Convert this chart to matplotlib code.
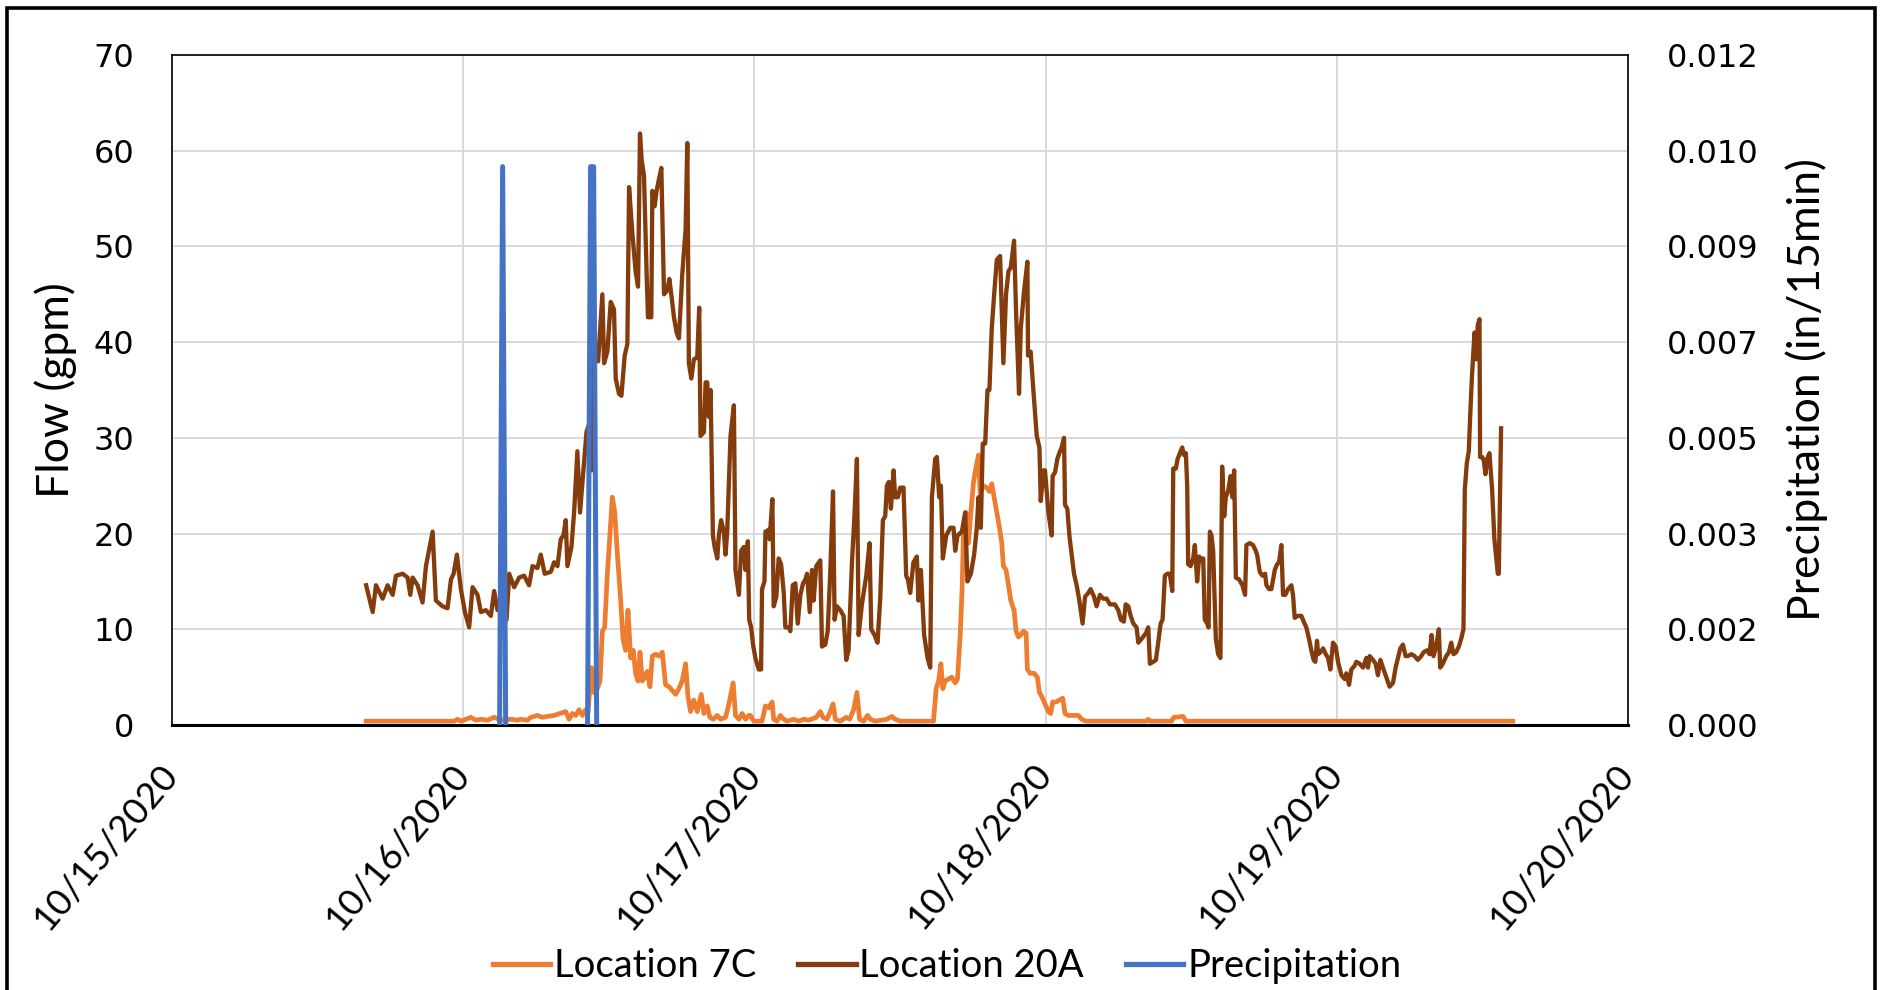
import numpy as np
import pandas as pd
import matplotlib
matplotlib.use("Agg")
import matplotlib.pyplot as plt
import matplotlib.dates as mdates
from matplotlib.patches import Rectangle
from matplotlib.ticker import FixedLocator, FormatStrFormatter

# hours after 10/15/2020 00:00
t_20a = [16.0, 16.54, 16.81, 17.36, 17.77, 18.19, 18.46, 19.01, 19.42, 19.64, 19.83, 20.24, 20.65, 20.93,
         21.48, 21.75, 22.30, 22.71, 22.99, 23.21, 23.48, 23.81, 24.14, 24.49, 24.77, 25.18, 25.46, 25.87,
         26.28, 26.55, 26.83, 27.24, 27.57, 27.79, 28.2, 28.61, 29.02, 29.43, 29.71, 30.12, 30.39, 30.72,
         31.22, 31.49, 31.77, 32.04, 32.26, 32.45, 32.59, 32.92, 33.14, 33.41, 33.63, 33.88, 34.16, 34.37,
         34.59, 34.79, 35.12, 35.47, 35.61, 35.88, 36.16, 36.43, 36.57, 36.84, 37.04, 37.31, 37.53, 37.67,
         37.94, 38.21, 38.41, 38.57, 38.71, 38.90, 39.12, 39.23, 39.50, 39.59, 39.78, 39.94, 40.13, 40.33,
         40.55, 40.82, 40.99, 41.15, 41.37, 41.59, 41.78, 42.05, 42.33, 42.47, 42.60, 42.80, 43.01, 43.29,
         43.45, 43.56, 43.84, 43.98, 44.11, 44.25, 44.39, 44.58, 44.72, 44.94, 45.07, 45.26, 45.48, 45.62,
         45.76, 46.03, 46.31, 46.44, 46.72, 46.91, 47.13, 47.27, 47.46, 47.57, 47.73, 47.89, 48.08, 48.36,
         48.55, 48.63, 48.83, 48.91, 49.18, 49.26, 49.48, 49.59, 49.81, 50.0, 50.2, 50.42, 50.55, 50.83,
         50.96, 51.16, 51.38, 51.57, 51.79, 52.01, 52.2, 52.34, 52.56, 52.75, 52.88, 53.1, 53.43, 53.57,
         53.84, 54.04, 54.26, 54.48, 54.61, 54.8, 55.08, 55.35, 55.57, 55.76, 56.04, 56.23, 56.45, 56.59,
         56.86, 57.22, 57.49, 57.63, 57.9, 58.15, 58.37, 58.59, 58.78, 58.92, 59.08, 59.25, 59.47, 59.6,
         59.82, 60.02, 60.29, 60.51, 60.65, 60.84, 61.11, 61.39, 61.52, 61.72, 61.99, 62.27, 62.49, 62.63,
         62.9, 63.04, 63.23, 63.37, 63.53, 63.81, 64.14, 64.41, 64.55, 64.74, 65.1, 65.37, 65.56, 65.84,
         66.11, 66.33, 66.47, 66.66, 66.82, 67.02, 67.21, 67.37, 67.56, 67.76, 67.98, 68.25, 68.52, 68.74,
         68.94, 69.13, 69.4, 69.57, 69.81, 69.95, 70.23, 70.5, 70.55, 70.77, 70.99, 71.27, 71.49, 71.6,
         71.82, 71.95, 72.23, 72.5, 72.58, 72.78, 72.97, 73.13, 73.32, 73.52, 73.6, 73.79, 73.96, 74.15,
         74.34, 74.56, 74.78, 75.05, 75.25, 75.52, 75.71, 75.99, 76.2, 76.48, 76.75, 77.03, 77.3, 77.71,
         77.99, 78.21, 78.45, 78.6, 78.82, 79.01, 79.23, 79.5, 79.64, 79.91, 80.27, 80.46, 80.6, 80.87,
         81.09, 81.28, 81.48, 81.64, 81.83, 82.03, 82.24, 82.44, 82.52, 82.74, 82.88, 83.07, 83.26, 83.4,
         83.56, 83.67, 83.75, 83.95, 84.16, 84.3, 84.49, 84.66, 84.85, 84.99, 85.12, 85.32, 85.43, 85.54,
         85.67, 85.81, 86.03, 86.22, 86.41, 86.55, 86.72, 86.85, 87.04, 87.24, 87.4, 87.54, 87.68, 87.95,
         88.22, 88.44, 88.55, 88.83, 89.1, 89.32, 89.43, 89.65, 89.87, 90.09, 90.2, 90.42, 90.61, 90.89,
         91.08, 91.24, 91.43, 91.57, 91.76, 91.98, 92.26, 92.39, 92.53, 92.81, 93.08, 93.27, 93.49, 93.71,
         93.9, 94.09, 94.23, 94.37, 94.46, 94.65, 94.87, 95.09, 95.28, 95.47, 95.69, 95.91, 96.1, 96.38,
         96.65, 96.79, 97.01, 97.2, 97.47, 97.61, 97.88, 98.16, 98.43, 98.57, 98.71, 98.98, 99.2, 99.39,
         99.59, 99.8, 100.08, 100.35, 100.63, 100.85, 101.04, 101.23, 101.45, 101.67, 101.86, 102.14, 102.41,
         102.68, 102.96, 103.15, 103.43, 103.64, 103.81, 103.97, 104.19, 104.41, 104.52, 104.74, 105.02,
         105.24, 105.43, 105.62, 105.84, 106.06, 106.25, 106.44, 106.55, 106.72, 106.88, 106.99, 107.13,
         107.35, 107.49, 107.62, 107.76, 107.81, 107.98, 108.12, 108.25, 108.39, 108.58, 108.8, 108.99,
         109.27, 109.35, 109.54]
flow_20a = [14.6, 11.8, 14.6, 13.2, 14.6, 13.6, 15.6, 15.8, 15.4, 13.6, 15.4, 14.6, 12.8, 16.6,
            20.2, 13.0, 12.4, 12.2, 15.2, 15.8, 17.8, 14.2, 11.8, 10.2, 14.4, 13.6, 11.8, 12.0,
            11.4, 14.0, 12.0, 12.4, 11.0, 15.8, 14.4, 15.4, 15.6, 14.6, 16.6, 16.4, 17.8, 15.8,
            16.0, 17.0, 16.6, 19.4, 19.8, 21.4, 16.6, 18.6, 22.2, 28.6, 22.2, 26.2, 30.6, 31.4,
            26.6, 38.6, 38.0, 45.0, 37.8, 39.0, 44.2, 43.4, 36.2, 34.6, 34.4, 38.6, 39.8, 56.2,
            51.4, 47.4, 45.8, 61.8, 59.0, 57.4, 47.0, 42.6, 42.6, 55.8, 54.2, 55.8, 57.0, 58.2,
            45.0, 45.4, 46.6, 45.0, 42.6, 41.0, 40.4, 47.0, 51.8, 60.8, 37.8, 36.2, 38.2, 38.4,
            43.6, 30.2, 30.6, 35.8, 35.8, 32.2, 35.0, 19.8, 18.6, 17.4, 19.8, 21.4, 20.2, 17.8,
            20.2, 30.2, 33.4, 16.2, 13.6, 18.2, 18.6, 16.2, 19.2, 11.0, 10.2, 8.4, 7.0, 5.8,
            5.8, 14.2, 15.0, 20.2, 20.4, 19.4, 23.6, 12.4, 13.4, 17.4, 16.8, 13.8, 10.2, 10.2,
            9.8, 14.6, 14.8, 10.6, 13.6, 14.8, 15.2, 15.8, 11.8, 16.2, 13.0, 16.6, 17.2, 8.2,
            8.4, 9.8, 16.2, 24.4, 11.0, 12.4, 12.0, 11.4, 6.8, 7.8, 17.0, 21.4, 27.8, 9.4,
            12.6, 15.6, 19.0, 10.0, 9.4, 8.6, 13.2, 21.4, 21.8, 25.0, 25.4, 22.6, 26.6, 23.8,
            23.8, 24.8, 24.8, 15.6, 15.2, 13.8, 17.0, 17.6, 13.0, 16.2, 9.4, 7.0, 6.0, 23.8,
            27.8, 28.0, 23.8, 25.0, 17.4, 19.8, 20.6, 20.6, 18.2, 19.8, 20.2, 22.2, 15.0, 15.8,
            17.8, 20.6, 23.8, 20.6, 29.4, 29.4, 35.0, 35.0, 41.4, 45.0, 48.6, 49.0, 37.8, 45.0,
            47.4, 47.8, 50.6, 43.0, 34.6, 41.4, 45.4, 48.4, 38.6, 39.0, 35.0, 30.2, 29.0, 23.4,
            26.6, 26.6, 22.2, 19.8, 26.0, 26.4, 27.8, 28.4, 29.0, 30.0, 23.0, 22.6, 19.8, 17.8,
            15.8, 14.6, 13.0, 10.6, 13.4, 13.8, 14.2, 13.4, 12.4, 13.6, 13.2, 13.2, 12.6, 12.6,
            12.0, 11.0, 10.8, 12.6, 12.4, 11.4, 10.6, 10.2, 8.6, 9.0, 9.6, 10.2, 6.4, 6.6,
            6.8, 8.6, 10.6, 11.0, 15.6, 15.8, 15.8, 14.0, 26.8, 26.8, 27.8, 28.4, 29.0, 28.2,
            28.4, 25.0, 16.8, 16.6, 17.4, 18.8, 15.0, 17.6, 17.2, 17.4, 11.0, 10.6, 10.2, 20.2,
            19.8, 18.2, 9.0, 7.4, 7.0, 27.0, 21.8, 23.8, 24.4, 26.0, 23.8, 26.6, 15.4, 15.2,
            14.6, 13.6, 18.8, 19.0, 18.8, 18.2, 17.8, 16.0, 15.6, 15.8, 14.6, 14.2, 14.2, 16.2,
            16.8, 17.0, 18.8, 13.6, 13.6, 14.2, 14.6, 13.6, 11.2, 11.4, 11.4, 10.8, 10.2, 9.0,
            7.8, 6.8, 6.6, 8.8, 7.4, 7.6, 8.0, 7.4, 7.0, 5.8, 8.6, 8.2, 6.6, 5.2,
            4.8, 5.4, 4.2, 5.8, 6.2, 6.6, 6.4, 6.0, 7.0, 6.0, 7.2, 6.8, 6.4, 5.2,
            6.8, 6.0, 5.0, 4.0, 4.4, 6.0, 7.0, 8.0, 8.4, 7.2, 7.2, 7.4, 7.2,
            6.8, 7.2, 7.6, 7.8, 7.4, 9.4, 7.2, 8.2, 10.0, 6.0, 6.4, 7.2,
            7.6, 8.6, 7.4, 7.6, 8.2, 9.0, 10.0, 24.6, 27.4, 28.6, 32.2, 36.2,
            41.0, 38.2, 41.8, 42.4, 28.0, 28.0, 27.6, 26.2, 27.8, 28.4, 24.6, 19.4,
            15.8, 15.8, 31.0]

t_7c = [16.0, 23.26, 23.53, 23.81, 24.63, 25.04, 25.46, 26.0, 26.55, 27.1, 27.92, 28.47, 28.75, 29.3,
        29.57, 30.12, 30.53, 30.94, 31.49, 31.98, 32.45, 32.73, 33.0, 33.28, 33.55, 33.83, 34.1, 34.29,
        34.57, 34.73, 35.06, 35.28, 35.47, 35.66, 35.88, 36.07, 36.29, 36.49, 36.71, 36.98, 37.17, 37.39,
        37.58, 37.8, 38.02, 38.21, 38.41, 38.57, 38.76, 38.96, 39.17, 39.39, 39.59, 39.86, 40.13, 40.41,
        40.68, 40.96, 41.23, 41.51, 41.78, 42.05, 42.33, 42.52, 42.74, 43.01, 43.29, 43.62, 43.84, 44.11,
        44.33, 44.61, 44.94, 45.21, 45.62, 45.9, 46.25, 46.44, 46.72, 46.99, 47.27, 47.54, 47.67, 47.95,
        48.63, 48.91, 49.18, 49.46, 49.59, 49.87, 50.14, 50.42, 50.69, 51.24, 51.65, 52.06, 52.47, 53.1,
        53.43, 53.65, 53.98, 54.26, 54.48, 54.67, 55.08, 55.57, 55.85, 56.18, 56.45, 56.67, 57.0, 57.33,
        57.55, 57.96, 58.92, 59.33, 59.6, 60.02, 62.76, 62.98, 63.18, 63.37, 63.53, 63.72, 64.0, 64.27,
        64.55, 64.74, 64.96, 65.12, 65.23, 65.45, 65.64, 65.84, 66.06, 66.28, 66.47, 66.6, 66.88, 67.15,
        67.37, 67.56, 67.76, 67.98, 68.2, 68.39, 68.52, 68.74, 68.94, 69.13, 69.4, 69.57, 69.76, 69.95,
        70.17, 70.39, 70.5, 70.72, 71.05, 71.32, 71.49, 71.68, 71.95, 72.23, 72.42, 72.58, 72.86, 73.13,
        73.41, 73.6, 73.87, 74.7, 74.97, 75.33, 80.32, 80.46, 80.65, 82.38, 82.57, 83.34, 83.56, 110.5]
flow_7c = [0.4, 0.4, 0.6, 0.4, 0.8, 0.5, 0.6, 0.5, 0.8, 0.5, 0.6, 0.5, 0.6, 0.5,
           0.8, 1.0, 0.8, 0.9, 1.0, 1.2, 1.4, 0.6, 1.2, 1.0, 1.6, 1.0, 1.6, 1.4,
           6.0, 3.4, 3.8, 4.6, 9.8, 10.2, 15.8, 19.4, 23.8, 22.2, 17.8, 13.0, 9.0, 7.8,
           12.0, 7.0, 7.8, 5.4, 4.6, 7.6, 4.6, 5.0, 5.6, 4.0, 7.2, 7.4, 7.2, 7.6,
           4.2, 4.0, 3.6, 3.2, 3.8, 4.6, 6.4, 3.0, 1.4, 2.6, 1.4, 3.2, 1.2, 2.0,
           0.8, 0.6, 1.0, 0.6, 0.8, 2.2, 4.4, 1.0, 0.6, 1.2, 0.6, 1.0, 1.0, 0.4,
           0.4, 2.0, 1.8, 2.4, 0.6, 0.4, 1.0, 0.6, 0.4, 0.6, 0.4, 0.6, 0.5, 0.8,
           1.4, 0.8, 0.6, 1.4, 2.2, 0.6, 0.4, 0.8, 0.6, 1.6, 3.4, 0.6, 0.4, 1.0,
           0.6, 0.4, 0.6, 0.9, 0.6, 0.4, 0.4, 3.8, 4.6, 6.4, 3.8, 4.6, 4.8, 5.0,
           4.4, 4.8, 9.4, 14.2, 20.2, 22.2, 19.0, 22.2, 25.4, 27.0, 28.2, 24.2, 25.0, 24.8,
           24.4, 25.2, 23.8, 22.2, 20.6, 19.0, 16.6, 16.2, 14.6, 13.0, 12.0, 9.8, 9.2, 9.4,
           9.8, 9.6, 5.8, 5.4, 5.4, 5.0, 3.4, 3.0, 2.2, 1.4, 1.2, 2.4, 2.4, 2.6,
           2.8, 1.2, 1.0, 1.0, 0.6, 0.4, 0.4, 0.6, 0.4, 0.4, 0.8, 0.9, 0.4, 0.4]

t_precip = [27.0, 27.25, 27.5, 30.0, 34.25, 34.5, 34.75, 35.0]
precip = [0.0, 0.01, 0.0, np.nan, 0.0, 0.01, 0.01, 0.0]

labels = ["Location 7C", "Location 20A", "Precipitation"]
colors = ["#ED7D31", "#843C0C", "#4472C4"]

start = pd.Timestamp("2020-10-15")
def to_dates(hours):
    return start + pd.to_timedelta(hours, unit="h")

W, H = 1881, 990
fig = plt.figure(figsize=(W / 100, H / 100), dpi=100)
ax = fig.add_axes([172 / W, 1 - 725 / H, (1628 - 172) / W, (725 - 55) / H])
ax2 = ax.twinx()

l1, = ax.plot(to_dates(t_7c), flow_7c, color=colors[0], lw=3.4, solid_joinstyle="round", zorder=3)
l2, = ax.plot(to_dates(t_20a), flow_20a, color=colors[1], lw=3.1, solid_joinstyle="round", zorder=4)
l3, = ax2.plot(to_dates(t_precip), precip, color=colors[2], lw=3.6, solid_joinstyle="round")

ax.set_xlim(pd.Timestamp("2020-10-15"), pd.Timestamp("2020-10-20"))
ax.set_ylim(0, 70)
ax.set_yticks(range(0, 71, 10))
ax2.set_ylim(0, 0.012)
ax2.yaxis.set_major_locator(FixedLocator(np.linspace(0, 0.012, 8)))
ax2.yaxis.set_major_formatter(FormatStrFormatter("%.3f"))

ax.xaxis.set_major_locator(mdates.DayLocator())
ax.xaxis.set_major_formatter(mdates.DateFormatter("%m/%d/%Y"))
ax.grid(True, color="#D9D9D9", lw=1.4)
ax.set_axisbelow(True)

ax.tick_params(axis="y", length=0, pad=27, labelsize=23)
ax2.tick_params(axis="y", length=0, pad=28, labelsize=23)
ax.tick_params(axis="x", length=0, pad=31)
for lab in ax.get_xticklabels():
    lab.set_family("Lato")
    lab.set_fontsize(26.5)
    lab.set_rotation(50)
    lab.set_ha("right")
    lab.set_va("center")
    lab.set_rotation_mode("anchor")

for s in ["left", "top", "right"]:
    ax.spines[s].set_linewidth(1.2)
ax.spines["bottom"].set_linewidth(2.2)
for s in ax2.spines.values():
    s.set_visible(False)

fig.text(56 / W, 1 - 390 / H, "Flow (gpm)", rotation=90, ha="center", va="center",
         family="Lato", fontsize=32)
fig.text(1807 / W, 1 - 390 / H, "Precipitation (in/15min)", rotation=90, ha="center", va="center",
         family="Lato", fontsize=32)

leg = fig.legend([l1, l2, l3], labels, loc="center", bbox_to_anchor=(947 / W, 1 - 966 / H), ncol=3,
                 frameon=False, prop={"family": "Lato", "size": 27.5}, handlelength=1.5,
                 handletextpad=0.1, columnspacing=1.1)
for h in leg.get_lines():
    h.set_linewidth(3.8)

fig.add_artist(Rectangle((7 / W, -0.05), (1875 - 7) / W, 1.05 - 8 / H, transform=fig.transFigure,
                         fill=False, ec="black", lw=2.6))

fig.savefig("out.png", dpi=100)
